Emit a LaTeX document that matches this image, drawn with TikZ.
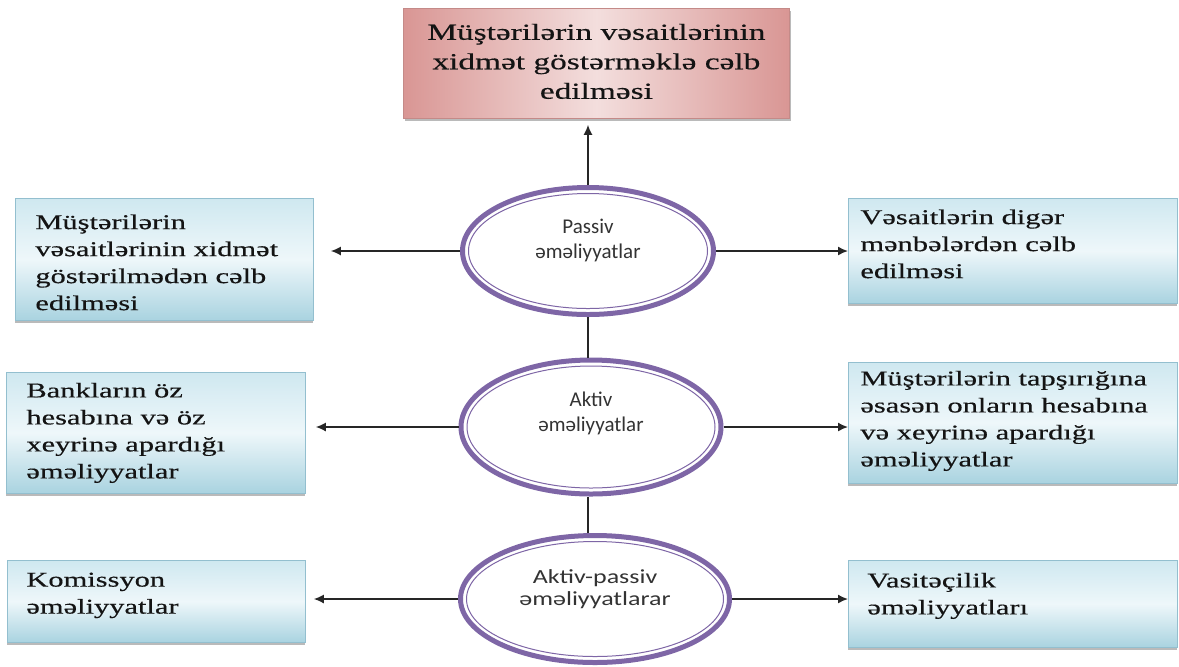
\documentclass[tikz,border=0pt]{standalone}
\usepackage{fontspec}
\setmainfont{Liberation Serif}
\newfontfamily\boxfont[FakeStretch=1.45,FakeBold=0.4]{Liberation Serif}
\newfontfamily\ellfont{Carlito}
\usetikzlibrary{shapes.geometric,shadows,arrows.meta}
\definecolor{boxtop}{HTML}{CFE8F0}
\definecolor{boxmid}{HTML}{EEF7FA}
\definecolor{boxbot}{HTML}{A9D3E0}
\definecolor{boxdraw}{HTML}{93BFCF}
\definecolor{pinkside}{HTML}{D99694}
\definecolor{pinkmid}{HTML}{F3DEDD}
\definecolor{pinkdraw}{HTML}{C48A88}
\definecolor{ringcol}{HTML}{7E66A6}
\newcommand{\widen}[1]{\scalebox{1.3}[1]{#1}}
\begin{document}
\begin{tikzpicture}[x=0.5pt,y=-0.5pt,
  bluebox/.style={rectangle, draw=boxdraw, line width=0.4pt, top color=boxtop, bottom color=boxbot, middle color=boxmid,
    drop shadow={shadow xshift=0pt, shadow yshift=-1.5pt, opacity=0.45, fill=black!60}, inner sep=0pt, anchor=north west},
  pinkbox/.style={rectangle, draw=pinkdraw, line width=0.4pt, left color=pinkside, right color=pinkside, middle color=pinkmid,
    drop shadow={shadow xshift=1pt, shadow yshift=-1.5pt, opacity=0.45, fill=black!60}, inner sep=0pt, anchor=north west},
  boxtext/.style={font=\boxfont\fontsize{10.5}{13.5}\selectfont, align=left, anchor=west, inner sep=0pt, text=black!92},
  toptext/.style={font=\boxfont\fontsize{11.5}{14.75}\selectfont, align=center, inner sep=0pt, text=black!92},
  ring/.style={ellipse, draw=ringcol, line width=2.5pt, fill=white, inner sep=0pt},
  innerring/.style={draw=ringcol, line width=0.5pt},
  elltext/.style={font=\ellfont\fontsize{10.5}{12.5}\selectfont, align=center, inner sep=0pt, text=black!80},
  elltextwide/.style={font=\ellfont\fontsize{10}{11}\selectfont, align=center, inner sep=0pt, text=black!80},
  conn/.style={line width=0.75pt, draw=black!85},
  arr/.style={conn, -{Latex[length=5pt,width=4.5pt]}},
]
\useasboundingbox (0,0) rectangle (1179,666);

% boxes
\node[pinkbox, minimum width=193pt, minimum height=55pt] (top) at (403,8) {};
\node[toptext] (toptx) at ([yshift=1pt]top.center) {Müştərilərin vəsaitlərinin\\xidmət göstərməklə cəlb\\edilməsi};

\node[bluebox, minimum width=149pt, minimum height=61pt] (l1) at (15,198) {};
\node[boxtext] (l1tx) at ([xshift=10pt,yshift=-1.5pt]l1.west) {Müştərilərin\\vəsaitlərinin xidmət\\göstərilmədən cəlb\\edilməsi};

\node[bluebox, minimum width=149.5pt, minimum height=60.5pt] (l2) at (6,372) {};
\node[boxtext] (l2tx) at ([xshift=10pt]l2.west) {Bankların öz\\hesabına və öz\\xeyrinə apardığı\\əməliyyatlar};

\node[bluebox, minimum width=149pt, minimum height=41pt] (l3) at (7,560) {};
\node[boxtext] (l3tx) at ([xshift=9.5pt,yshift=3pt]l3.west) {Komissyon\\əməliyyatlar};

\node[bluebox, minimum width=164.5pt, minimum height=52.5pt] (r1) at (848,198) {};
\node[boxtext] (r1tx) at ([xshift=6pt,yshift=3.5pt]r1.west) {Vəsaitlərin digər\\mənbələrdən cəlb\\edilməsi};

\node[bluebox, minimum width=164.5pt, minimum height=60.5pt] (r2) at (848,362) {};
\node[boxtext] (r2tx) at ([xshift=6pt,yshift=1pt]r2.west) {Müştərilərin tapşırığına\\əsasən onların hesabına\\və xeyrinə apardığı\\əməliyyatlar};

\node[bluebox, minimum width=164.5pt, minimum height=43.5pt] (r3) at (848,560) {};
\node[boxtext] (r3tx) at ([xshift=9.5pt,yshift=4pt]r3.west) {Vasitəçilik\\əməliyyatları};

% ellipses
\node[ring, minimum width=125.5pt, minimum height=63.5pt] (p) at (588,251) {};
\draw[innerring] (p.center) ellipse [x radius=119.5, y radius=57.5];
\node[elltext] (ptx) at ([yshift=5.5pt]p.center) {Passiv\\əməliyyatlar};

\node[ring, minimum width=130pt, minimum height=67pt] (a) at (591,427) {};
\draw[innerring] (a.center) ellipse [x radius=124, y radius=61];
\node[elltext] (atx) at ([yshift=7pt]a.center) {Aktiv\\əməliyyatlar};

\node[ring, minimum width=134.5pt, minimum height=63.5pt] (ap) at (595,599) {};
\draw[innerring] (ap.center) ellipse [x radius=128.5, y radius=57.5];
\node[elltextwide] (aptx) at ([yshift=5pt]ap.center) {\widen{Aktiv-passiv}\\\widen{əməliyyatlarar}};

% connectors
\draw[arr, shorten >=3pt] (p.north) -- (p.north |- top.south);
\draw[conn] (p.south) -- (p.south |- a.north);
\draw[conn] (a.south -| p.south) -- (ap.north -| p.south);

\draw[arr, shorten >=8.5pt] (p.west) -- (p.west -| l1.east);
\draw[arr] (p.east) -- (p.east -| r1.west);
\draw[arr, shorten >=5pt] (a.west) -- (a.west -| l2.east);
\draw[arr] (a.east) -- (a.east -| r2.west);
\draw[arr, shorten >=4pt] (ap.west) -- (ap.west -| l3.east);
\draw[arr] (ap.east) -- (ap.east -| r3.west);
\end{tikzpicture}
\end{document}
